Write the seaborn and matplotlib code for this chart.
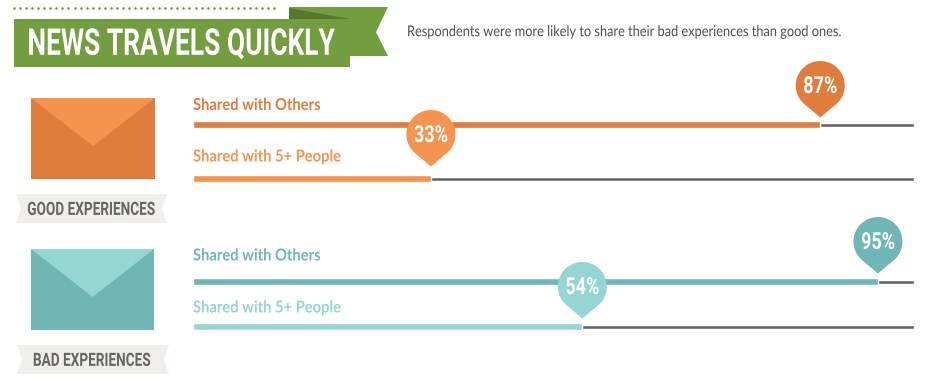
import numpy as np
import pandas as pd
import matplotlib
matplotlib.use("Agg")
import matplotlib.pyplot as plt
from matplotlib.patches import Polygon
from matplotlib.patheffects import AbstractPathEffect
from matplotlib.transforms import Affine2D
import seaborn as sns

title = "NEWS TRAVELS QUICKLY"
subtitle = "Respondents were more likely to share their bad experiences than good ones."
measures = ["Shared with Others", "Shared with 5+ People"]
good_values = [87, 33]
bad_values = [95, 54]
full_values = [100, 100]
group_labels = ["GOOD EXPERIENCES", "BAD EXPERIENCES"]

W, H = 938, 380
sns.set_theme(style="white")
plt.rcParams["font.family"] = ["Lato", "DejaVu Sans"]
DISPLAY = "Roboto"

GREEN, GREEN_D = "#739E3F", "#55782C"
OR_D, OR_L = "#E07D3C", "#F4944F"
TE_D, TE_L = "#70B6B4", "#95D5D3"
TRACK = "#666666"
RIBBON = "#F0EFEC"

fig = plt.figure(figsize=(W / 100, H / 100), dpi=100)


class VStretch(AbstractPathEffect):
    """Stretch a real text vertically about its anchor, giving a condensed look."""

    def __init__(self, s, y_px):
        super().__init__()
        self.s, self.cy = s, H - y_px

    def draw_path(self, renderer, gc, tpath, affine, rgbFace=None):
        st = Affine2D().translate(0, -self.cy).scale(1, self.s).translate(0, self.cy)
        renderer.draw_path(gc, tpath, affine + st, rgbFace)


def px_axes(x0, y0, x1, y1):
    return fig.add_axes([x0 / W, 1 - y1 / H, (x1 - x0) / W, (y1 - y0) / H])


def bars(box, values, colours, bar_px, spacing):
    ax = px_axes(*box)
    df = pd.DataFrame({"measure": measures, "value": values, "full": full_values})
    sns.barplot(df, y="measure", x="full", color=TRACK, width=4 / spacing, ax=ax,
                saturation=1, order=measures)
    sns.barplot(df, y="measure", x="value", hue="measure", palette=colours, legend=False,
                width=bar_px / spacing, ax=ax, saturation=1, order=measures, hue_order=measures)
    ax.set_xlim(0, 100)
    ax.set_ylim(1.5, -0.5)
    ax.set_axis_off()
    return ax


ax_good = bars((193, 97.5, 914, 205.5), good_values, [OR_D, OR_L], 6.5, 54)
ax_bad = bars((193, 259, 914, 349), bad_values, [TE_D, TE_L], 6.5, 45)

ov = fig.add_axes([0, 0, 1, 1], zorder=5)
ov.set_xlim(0, W)
ov.set_ylim(H, 0)
ov.set_axis_off()
ov.patch.set_alpha(0)


def poly(pts, color, z=1):
    ov.add_patch(Polygon(pts, closed=True, facecolor=color, edgecolor="none", zorder=z))


def label(x, y, s, color, size, stretch, ha="center", weight="bold", family=DISPLAY, z=4):
    ov.text(x, y, s, color=color, fontsize=size, fontweight=weight, family=family,
            ha=ha, va="center", zorder=z, path_effects=[VStretch(stretch, y)])


# header ribbon
ov.plot(np.arange(14, 278, 6.05), np.full(44, 7.5), ls="none", marker="o", ms=1.9,
        color=GREEN, mew=0)
poly([(289, 7), (388, 7), (376, 32), (388, 56), (350, 56), (289, 56)], GREEN, 1)
poly([(289, 8), (350, 19), (289, 19)], GREEN_D, 2)
poly([(14, 19), (350, 19), (350, 67), (14, 67)], GREEN, 3)
label(181, 45, title, "white", 19, 1.4)
label(407, 31.5, subtitle, "#4F4F4F", 9.2, 1.17, ha="left", weight="normal", family="Lato")


# envelopes and ribbons
def envelope(x0, x1, y0, y1, tip, body, flap):
    poly([(x0, y0), (x1, y0), (x1, y1), (x0, y1)], body)
    poly([(x0, y0), (x1, y0), ((x0 + x1) / 2, tip)], flap, 2)


def ribbon(x0, x1, y0, y1, text, tx):
    ym = (y0 + y1) / 2
    poly([(x0, y0), (x1, y0), (x1 - 5, ym), (x1, y1), (x0, y1), (x0 + 5, ym)], RIBBON)
    label(tx, ym + 1, text, "#666666", 9.8, 1.35, z=3)


envelope(31, 155, 98, 179, 146, OR_D, OR_L)
envelope(31, 154, 249, 330, 297, TE_D, TE_L)
ribbon(16, 167, 194, 223, group_labels[0], 91.5)
ribbon(17, 169, 345, 374, group_labels[1], 92)


# series labels and pins
def pin(ax, row, value, colour, lift):
    x, y_disp = ax.transData.transform((value, row))
    tip = H - y_disp - lift
    r, d = 24.5, 32
    cy = tip - d
    a0 = np.arccos(r / d)
    ang = np.linspace(np.pi / 2 + a0, 2.5 * np.pi - a0, 80)
    pts = [(x, tip)] + [(x + r * np.cos(t), cy + r * np.sin(t)) for t in ang]
    poly(pts, colour, 6)
    label(x, cy + 1, f"{value}%", "white", 13, 1.3, z=7)


for ax, vals, cols, lifts, ys in [
    (ax_good, good_values, [OR_D, OR_L], [7, 12], [105.5, 157]),
    (ax_bad, bad_values, [TE_D, TE_L], [8, 8], [256, 308]),
]:
    for i, m in enumerate(measures):
        label(193, ys[i], m, cols[i], 10.6, 1.12, ha="left", family="Lato")
        pin(ax, i, vals[i], cols[i], lifts[i])

fig.savefig("out.png", dpi=100, facecolor="white")
